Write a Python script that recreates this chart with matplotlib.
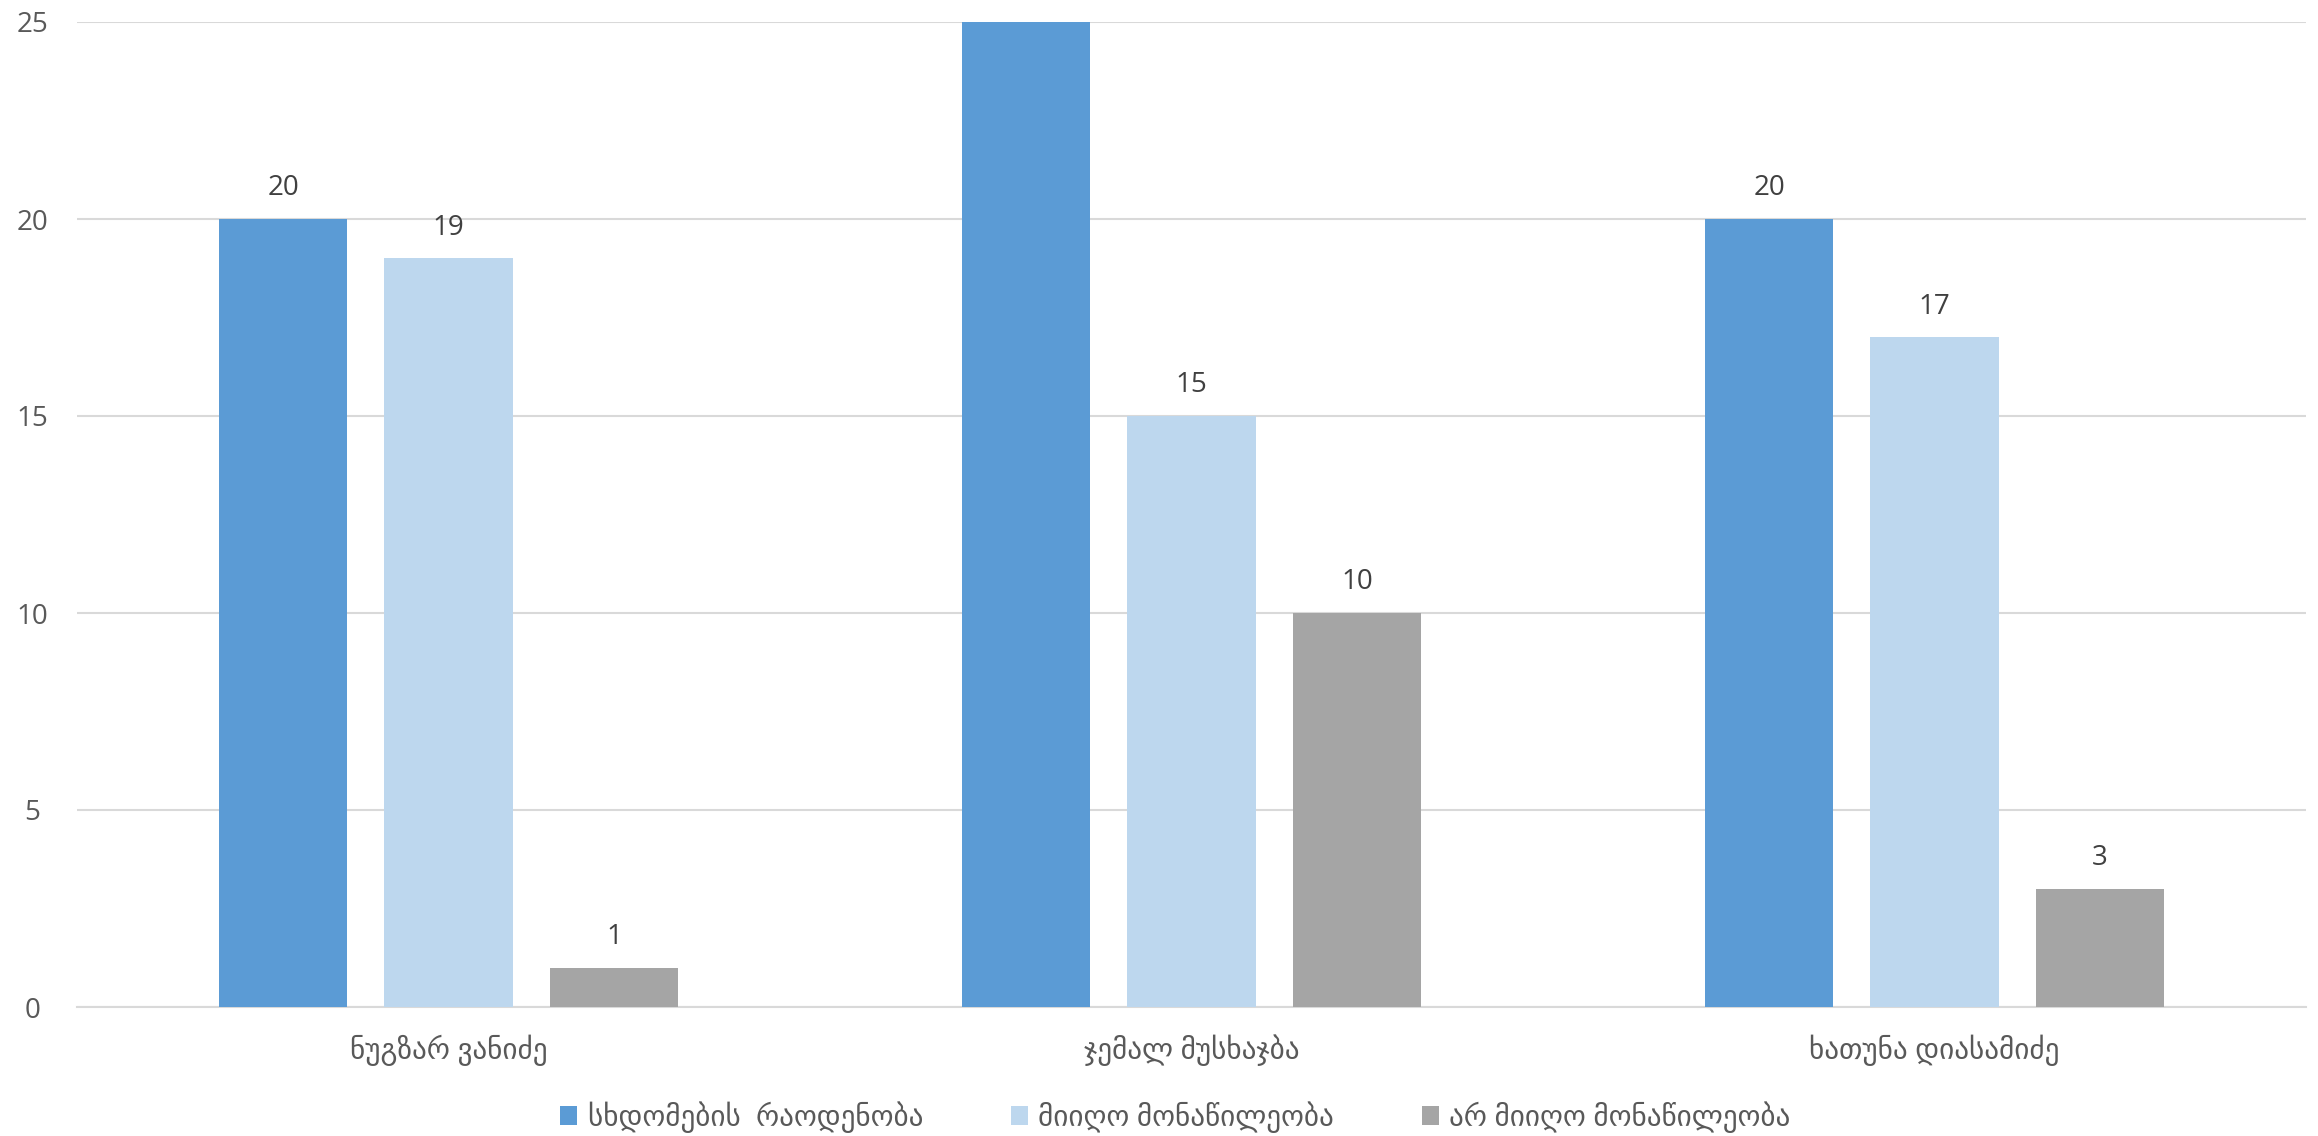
import matplotlib
matplotlib.use("Agg")
import matplotlib.pyplot as plt
import numpy as np

plt.rcParams['font.family'] = ['Open Sans', 'DejaVu Sans']

categories = ["ნუგზარ ვანიძე", "ჯემალ მუსხაჯბა", "ხათუნა დიასამიძე"]
series_names = ["სხდომების  რაოდენობა", "მიიღო მონაწილეობა", "არ მიიღო მონაწილეობა"]
sessions = [20, 25, 20]
attended = [19, 15, 17]
absent = [1, 10, 3]
colors = ["#5B9BD5", "#BDD7EE", "#A5A5A5"]
yticks = [0, 5, 10, 15, 20, 25]

text_color = "#595959"

fig = plt.figure(figsize=(23.18, 11.36), dpi=100)
ax = fig.add_axes([77/2318, 1 - 1007/1136, (2306 - 77)/2318, (1007 - 22)/1136])

x = np.arange(len(categories))
step = 0.2227
width = 0.173
for i, (vals, name, c) in enumerate(zip([sessions, attended, absent], series_names, colors)):
    pos = x + (i - 1) * step
    ax.bar(pos, vals, width=width, color=c, label=name, zorder=3)
    for p, v in zip(pos, vals):
        ax.annotate(str(v), (p, v), xytext=(0, 12), textcoords="offset points",
                    ha="center", va="bottom", fontsize=20, color="#404040",
                    annotation_clip=False)

ax.set_xlim(-0.5, 2.5)
ax.set_ylim(0, 25)
ax.set_yticks(yticks)
ax.set_xticks(x)
ax.set_xticklabels(categories, fontsize=21, color=text_color)
ax.tick_params(axis='y', labelsize=20, labelcolor=text_color, length=0, pad=32)
ax.tick_params(axis='x', length=0, pad=20)
for lab in ax.get_yticklabels():
    lab.set_horizontalalignment('center')
ax.grid(axis='y', color="#D9D9D9", linewidth=1.5, zorder=0)
for s in ["top", "right", "left"]:
    ax.spines[s].set_visible(False)
ax.spines["bottom"].set_color("#D9D9D9")
ax.spines["bottom"].set_linewidth(1.5)

fig.legend(loc="center", bbox_to_anchor=(0.507, 0.017), ncol=3, frameon=False,
           fontsize=21, handlelength=0.6, handleheight=0.6, handletextpad=0.35,
           columnspacing=3.0, labelcolor=text_color)

fig.savefig("out.png", dpi=100)
